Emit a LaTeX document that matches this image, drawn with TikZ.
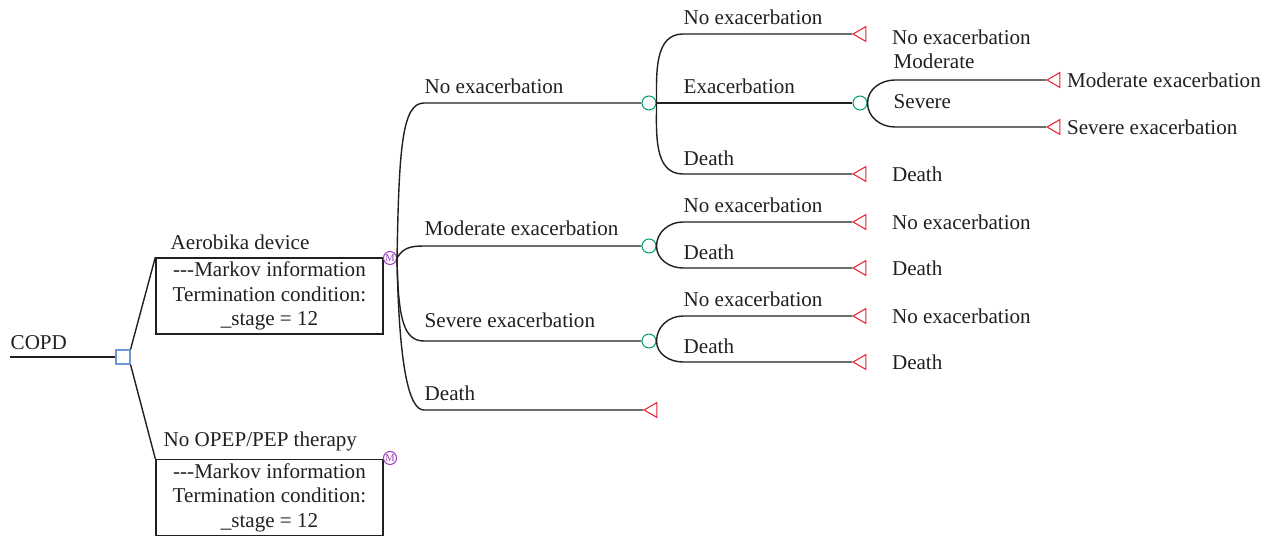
\documentclass[tikz,border=0pt]{standalone}
\usepackage{fontspec}
\setmainfont{Liberation Serif}
\usetikzlibrary{shapes.geometric, positioning}
\definecolor{chancegreen}{RGB}{0,160,110}
\definecolor{endred}{RGB}{232,30,50}
\definecolor{markovpurple}{RGB}{160,60,185}
\definecolor{decisionblue}{RGB}{110,150,210}
\definecolor{inkgray}{RGB}{35,31,32}

\begin{document}
\begin{tikzpicture}[x=0.02cm, y=-0.02cm, line width=0.8pt, draw=inkgray,
    font=\fontsize{12}{14}\selectfont,
    Label/.style={anchor=west, inner sep=0pt, text=inkgray},
    Chance/.style={circle, draw=chancegreen, line width=0.6pt, fill=white,
                minimum size=0.28cm, inner sep=0pt},
    Terminal/.style={regular polygon, regular polygon sides=3, shape border rotate=90,
                draw=endred, line width=0.6pt, minimum size=0.34cm, inner sep=0pt,
                anchor=corner 1},
    Markov/.style={circle, draw=markovpurple, line width=0.6pt, text=markovpurple,
                font=\fontsize{6}{6}\selectfont, minimum size=0.26cm, inner sep=0pt},
    Decision/.style={rectangle, draw=decisionblue, line width=0.6pt,
                minimum size=0.28cm, inner sep=0pt},
    InfoBox/.style={draw, align=center, minimum width=4.54cm, minimum height=1.52cm,
                inner sep=0pt, text=inkgray},
  ]
\useasboundingbox (0,0) rectangle (1272,537);

% root and strategies
\coordinate (root) at (10,357);
\node[Decision] (dec) at (123,357) {};
\node[Label] (lcopd) at (10,343) {COPD};
\draw (root) -- (dec.west);

\node[InfoBox] (box1) at (269.5,296) {\mbox{-}\mbox{-}\mbox{-}Markov information\\Termination condition:\\\_stage = 12};
\node[InfoBox] (box2) at (269.5,497.5) {\mbox{-}\mbox{-}\mbox{-}Markov information\\Termination condition:\\\_stage = 12};
\node[Label] (laero) at (170,242) {Aerobika device};
\node[Label] (lnone) at (163,441) {No OPEP/PEP therapy};
\draw (dec.north east) -- (box1.north west);
\draw (dec.south east) -- (box2.north west);
\node[Markov] (m1) at (390,258) {M};
\node[Markov] (m2) at (390,458) {M};

% Markov states
\coordinate (s1) at (424,103);
\coordinate (s2) at (424,246);
\coordinate (s3) at (424,341);
\coordinate (s4) at (424,410);
\node[Chance] (c1) at (649,103) {};
\node[Chance] (c2) at (649,246) {};
\node[Chance] (c3) at (649,341) {};
\node[Terminal] (t4) at (643,410) {};
\draw (m1.east) .. controls +(2,-110) and +(-22,0) .. (s1) -- (c1.west);
\draw (m1.east) .. controls +(6,-10) and +(-14,0) .. (s2) -- (c2.west);
\draw (m1.east) .. controls +(1,62) and +(-20,0) .. (s3) -- (c3.west);
\draw (m1.east) .. controls +(2,115) and +(-14,0) .. (s4) -- (t4.corner 1);
\node[Label] (l1) at (424,86) {No exacerbation};
\node[Label] (l2) at (424,228) {Moderate exacerbation};
\node[Label] (l3) at (424,320) {Severe exacerbation};
\node[Label] (l4) at (424,393) {Death};

% from no exacerbation
\coordinate (s11) at (683,34);
\coordinate (s12) at (683,103);
\coordinate (s13) at (683,174);
\node[Terminal] (t11) at (852,34) {};
\node[Chance] (c12) at (860,103) {};
\node[Terminal] (t13) at (852,174) {};
\draw (c1.east) to[out=90, in=180] (s11) -- (t11.corner 1);
\draw (c1.east) -- (s12) -- (c12.west);
\draw (c1.east) to[out=-90, in=180] (s13) -- (t13.corner 1);
\node[Label] (l11) at (683,17) {No exacerbation};
\node[Label] (l12) at (683,86) {Exacerbation};
\node[Label] (l13) at (683,158) {Death};
\node[Label, right=0.5cm of t11.east, yshift=-0.06cm] (e11) {No exacerbation};
\node[Label, right=0.5cm of t13.east] (e13) {Death};

\coordinate (s121) at (895,80);
\coordinate (s122) at (895,127);
\node[Terminal] (t121) at (1046,80) {};
\node[Terminal] (t122) at (1046,127) {};
\draw (c12.east) to[out=90, in=180] (s121) -- (t121.corner 1);
\draw (c12.east) to[out=-90, in=180] (s122) -- (t122.corner 1);
\node[Label] (l121) at (893,61) {Moderate};
\node[Label] (l122) at (893,102) {Severe};
\node[Label, right=0.12cm of t121.east] (e121) {Moderate exacerbation};
\node[Label, right=0.12cm of t122.east] (e122) {Severe exacerbation};

% from moderate exacerbation
\coordinate (s21) at (683,222);
\coordinate (s22) at (683,268);
\node[Terminal] (t21) at (852,222) {};
\node[Terminal] (t22) at (852,268) {};
\draw (c2.east) to[out=90, in=180] (s21) -- (t21.corner 1);
\draw (c2.east) to[out=-90, in=180] (s22) -- (t22.corner 1);
\node[Label] (l21) at (683,205) {No exacerbation};
\node[Label] (l22) at (683,252) {Death};
\node[Label, right=0.5cm of t21.east] (e21) {No exacerbation};
\node[Label, right=0.5cm of t22.east] (e22) {Death};

% from severe exacerbation
\coordinate (s31) at (683,316);
\coordinate (s32) at (683,362);
\node[Terminal] (t31) at (852,316) {};
\node[Terminal] (t32) at (852,362) {};
\draw (c3.east) to[out=90, in=180] (s31) -- (t31.corner 1);
\draw (c3.east) to[out=-90, in=180] (s32) -- (t32.corner 1);
\node[Label] (l31) at (683,299) {No exacerbation};
\node[Label] (l32) at (683,346) {Death};
\node[Label, right=0.5cm of t31.east] (e31) {No exacerbation};
\node[Label, right=0.5cm of t32.east] (e32) {Death};
\end{tikzpicture}
\end{document}
